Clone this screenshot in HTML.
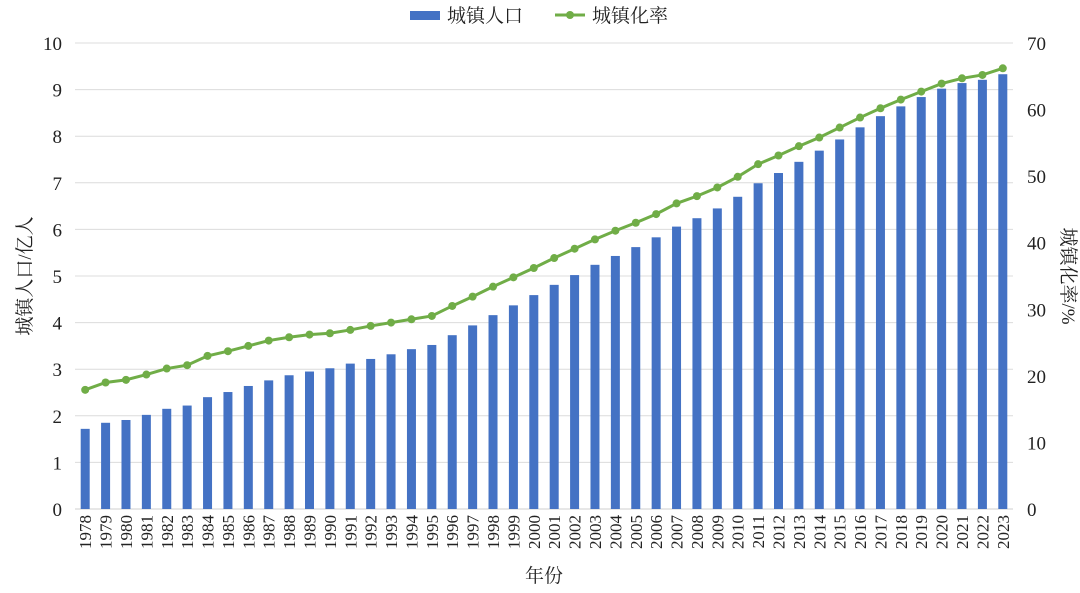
<!DOCTYPE html>
<html><head><meta charset="utf-8"><style>
body{margin:0;background:#fff;}
svg text{font-family:"Liberation Serif","Noto Serif CJK SC","Noto Sans CJK SC",serif;fill:#222;}
</style></head><body>
<svg id="chart" width="1080" height="588" xmlns="http://www.w3.org/2000/svg"></svg>
<script>
const years=[];for(let y=1978;y<=2023;y++)years.push(String(y));
const population=[1.72,1.85,1.91,2.02,2.15,2.22,2.40,2.51,2.64,2.76,2.87,2.95,3.02,3.12,3.22,3.32,3.43,3.52,3.73,3.94,4.16,4.37,4.59,4.81,5.02,5.24,5.43,5.62,5.83,6.06,6.24,6.45,6.70,6.99,7.21,7.45,7.69,7.93,8.19,8.43,8.64,8.84,9.02,9.14,9.21,9.33];
const rate=[17.9,19.0,19.4,20.2,21.1,21.6,23.0,23.7,24.5,25.3,25.8,26.2,26.4,26.9,27.5,28.0,28.5,29.0,30.5,31.9,33.4,34.8,36.2,37.7,39.1,40.5,41.8,43.0,44.3,45.9,47.0,48.3,49.9,51.8,53.1,54.5,55.8,57.3,58.8,60.2,61.5,62.7,63.9,64.7,65.2,66.2];
const leftTicks=[0,1,2,3,4,5,6,7,8,9,10];
const rightTicks=[0,10,20,30,40,50,60,70];

const svg=document.getElementById('chart');
const NS='http://www.w3.org/2000/svg';
function mk(tag,attrs,parent){const e=document.createElementNS(NS,tag);for(const k in attrs)e.setAttribute(k,attrs[k]);(parent||svg).appendChild(e);return e;}
const X0=75,X1=1013,Y0=509,Y1=43;
const step=(X1-X0)/years.length;
const xPos=i=>X0+step*(i+0.5);
const yL=v=>Y0-(v/10)*(Y0-Y1);
const yR=v=>Y0-(v/70)*(Y0-Y1);

leftTicks.forEach(t=>{
  const g=mk('line',{x1:X0,x2:X1,y1:yL(t),y2:yL(t),stroke:t===0?'#cfcfcf':'#dcdcdc','stroke-width':1});
  
  
  const tx=mk('text',{x:62,y:yL(t)+7,'text-anchor':'end','font-size':19});
  tx.textContent=t;
  
  
});
rightTicks.forEach(t=>{
  const tx=mk('text',{x:1027,y:yR(t)+7,'text-anchor':'start','font-size':19});
  tx.textContent=t;
  
  
});
population.forEach((v,i)=>{
  const r=mk('rect',{x:xPos(i)-4.5,y:yL(v),width:9,height:Y0-yL(v),fill:'#4472c4'});
  
  
});
const pts=rate.map((v,i)=>xPos(i)+','+yR(v)).join(' ');
const pl=mk('polyline',{points:pts,fill:'none',stroke:'#70ad47','stroke-width':3});


rate.forEach((v,i)=>{
  const c=mk('circle',{cx:xPos(i),cy:yR(v),r:4,fill:'#70ad47'});
  
  
});
years.forEach((y,i)=>{
  const tx=mk('text',{x:0,y:0,'text-anchor':'end','font-size':17,transform:`translate(${xPos(i)+6},515) rotate(-90)`});
  tx.textContent=y;
  
  
});
let t=mk('text',{x:544,y:582,'text-anchor':'middle','font-size':19});t.textContent='年份';


t=mk('text',{x:0,y:0,'text-anchor':'middle','font-size':19,transform:'translate(31,276) rotate(-90)'});t.textContent='城镇人口/亿人';


t=mk('text',{x:0,y:0,'text-anchor':'middle','font-size':19,transform:'translate(1062,276) rotate(90)'});t.textContent='城镇化率/%';


// legend
let lg=mk('g',{});


mk('rect',{x:410,y:11,width:30,height:9,fill:'#4472c4'},lg);
let lt=mk('text',{x:447,y:22,'font-size':19},lg);lt.textContent='城镇人口';
lg=mk('g',{});


mk('line',{x1:555,x2:585,y1:15,y2:15,stroke:'#70ad47','stroke-width':3},lg);
mk('circle',{cx:570,cy:15,r:4,fill:'#70ad47'},lg);
lt=mk('text',{x:592,y:22,'font-size':19},lg);lt.textContent='城镇化率';
</script>
</body></html>
